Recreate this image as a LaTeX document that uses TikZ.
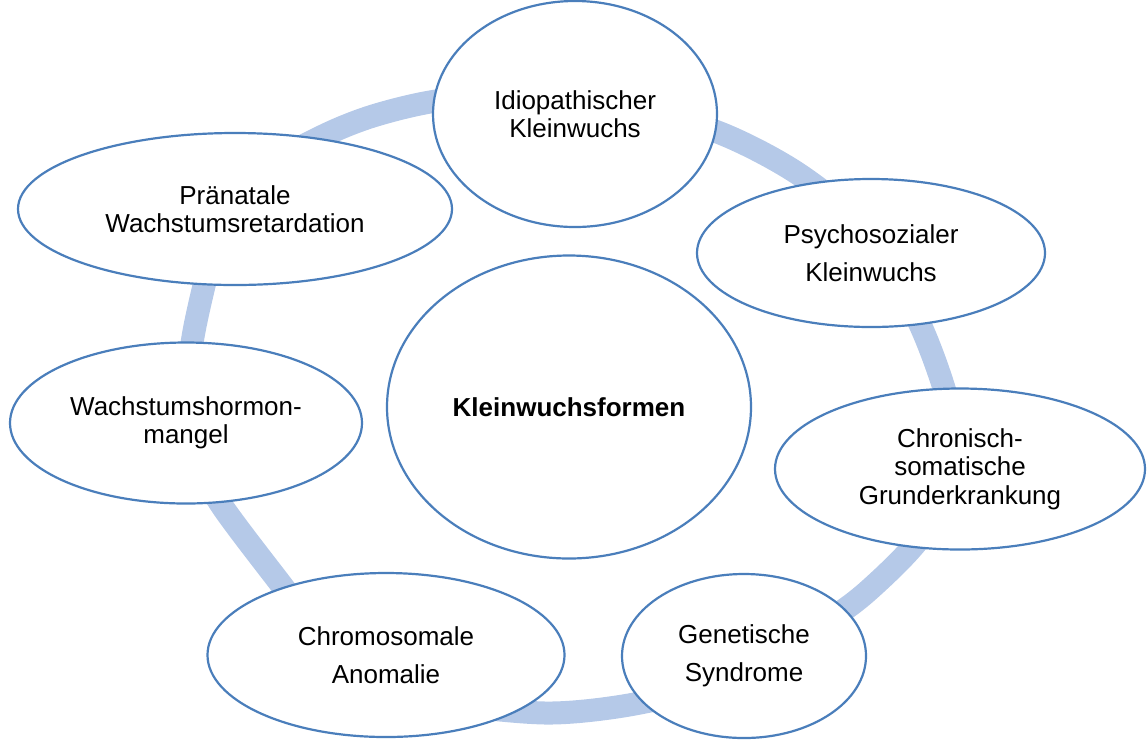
\documentclass[tikz,border=0pt]{standalone}
\usepackage{fontspec}
\setmainfont{Liberation Sans}
\usepackage{tikz}
\usetikzlibrary{shapes.geometric}
\definecolor{ringblau}{RGB}{181,201,232}
\definecolor{randblau}{RGB}{74,126,187}

\begin{document}
\begin{tikzpicture}[main/.style={draw=randblau, line width=2.2pt, ellipse, fill=white, inner sep=0pt, align=center, font=\fontsize{26}{28.5}\selectfont}, x=1pt, y=-1pt]
	\useasboundingbox (0,0) rectangle (1147,740);
	
	%Ringen bak
	\draw[ringblau, line width=23pt] plot[smooth cycle] coordinates {(433,101.5) (520,92) (620,104) (720,133) (800,175) (872,236) (918,320) (943,385) (957,443) (950,485) (935,518) (910,550) (880,580) (848,607) (780,652) (700,688) (623,706) (545,713) (450,703) (380,678) (325,640) (280,583) (220,503) (197,455) (186,400) (192.5,340) (203,290) (215,245) (235,205) (265,168) (325,135) (373,116)};
	
	%Nodene
	\node[main, minimum width=364pt, minimum height=303pt] (1) at (569,407) {\textbf{Kleinwuchsformen}};
	\node[main, minimum width=284pt, minimum height=226pt] (2) at (575,114) {Idiopathischer\\Kleinwuchs};
	\node[main, minimum width=348pt, minimum height=148pt] (3) at (871,253) {Psychosozialer\\[9.5pt]Kleinwuchs};
	\node[main, minimum width=370pt, minimum height=161pt] (4) at (960,469) {Chronisch-\\somatische\\Grunderkrankung};
	\node[main, minimum width=244pt, minimum height=164pt] (5) at (744,656) {Genetische\\[9.5pt]Syndrome};
	\node[main, minimum width=357pt, minimum height=164pt] (6) at (386,655) {Chromosomale\\[9.5pt]Anomalie};
	\node[main, minimum width=352pt, minimum height=161pt] (7) at (186,423) {Wachstumshormon-\\mangel};
	\node[main, minimum width=434pt, minimum height=152pt] (8) at (235,209) {Pränatale\\Wachstumsretardation};
	
\end{tikzpicture}
\end{document}
